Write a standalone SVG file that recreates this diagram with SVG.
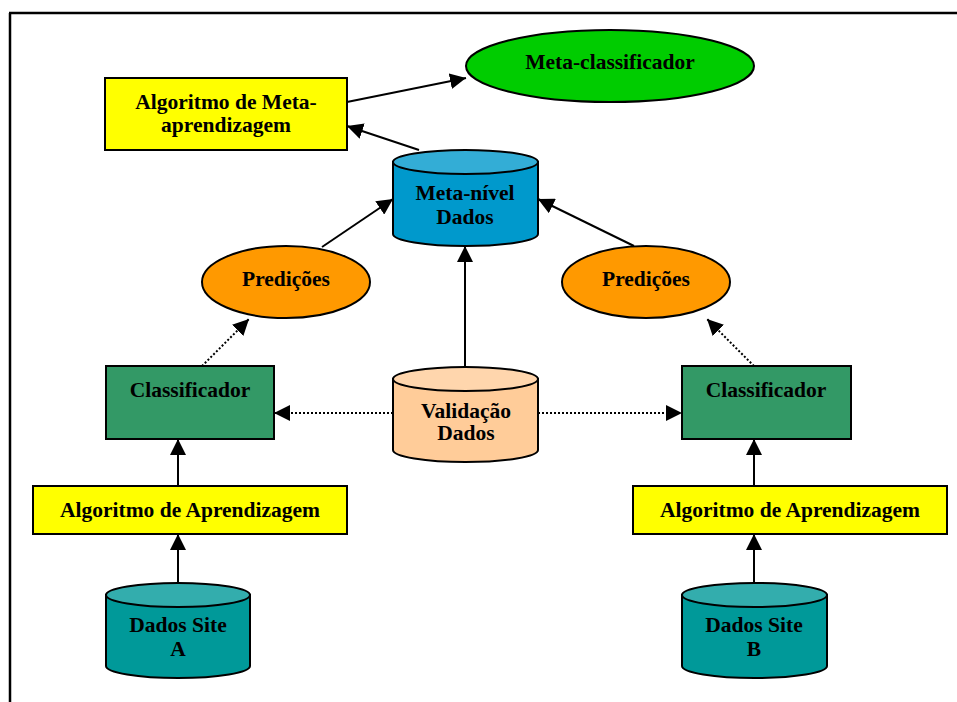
<svg xmlns="http://www.w3.org/2000/svg" width="957" height="702" viewBox="0 0 957 702">
<style>
  .t { font-family: "Liberation Serif", "Times New Roman", serif; font-weight: bold; font-size: 21.5px; fill: #000; text-anchor: middle; }
  .sh { stroke: #000; stroke-width: 2; }
  .c { stroke: #000; stroke-width: 2; fill: none; }
  .d { stroke: #000; stroke-width: 2; fill: none; stroke-dasharray: 2 2; }
</style>
<defs>
  <marker id="ah" markerUnits="userSpaceOnUse" markerWidth="16" markerHeight="16" refX="16" refY="8" orient="auto" viewBox="0 0 16 16">
    <path d="M0,0 L16,8 L0,16 Z" fill="#000"/>
  </marker>
</defs>
<rect x="0" y="0" width="957" height="702" fill="#fff"/>
<g id="frame">
  <path d="M9,13 H957 M10,13 V702" stroke="#000" stroke-width="2.5" fill="none"/>
</g>
<g id="connectors">
  <line class="c" x1="347" y1="102" x2="466" y2="78" marker-end="url(#ah)"/>
  <line class="c" x1="419" y1="150" x2="347" y2="126" marker-end="url(#ah)"/>
  <line class="c" x1="322" y1="247" x2="393" y2="199" marker-end="url(#ah)"/>
  <line class="c" x1="634" y1="246" x2="538" y2="199" marker-end="url(#ah)"/>
  <line class="c" x1="465" y1="367" x2="465" y2="246" marker-end="url(#ah)"/>
  <line class="d" x1="393" y1="413" x2="274" y2="413" marker-end="url(#ah)"/>
  <line class="d" x1="538" y1="413" x2="682" y2="413" marker-end="url(#ah)"/>
  <line class="d" x1="202" y1="366" x2="249" y2="319" marker-end="url(#ah)"/>
  <line class="d" x1="754" y1="366" x2="707" y2="319" marker-end="url(#ah)"/>
  <line class="c" x1="178" y1="486" x2="178" y2="439" marker-end="url(#ah)"/>
  <line class="c" x1="178" y1="583" x2="178" y2="534" marker-end="url(#ah)"/>
  <line class="c" x1="754" y1="486" x2="754" y2="439" marker-end="url(#ah)"/>
  <line class="c" x1="754" y1="583" x2="754" y2="534" marker-end="url(#ah)"/>
</g>
<g id="meta-algoritmo">
  <rect class="sh" x="105" y="78" width="242" height="72" fill="#FFFF00"/>
  <text class="t" x="226" y="109">Algoritmo de Meta-</text>
  <text class="t" x="226" y="132">aprendizagem</text>
</g>
<g id="meta-classificador">
  <ellipse class="sh" cx="610" cy="66" rx="144" ry="36" fill="#00CC00"/>
  <text class="t" x="610" y="69">Meta-classificador</text>
</g>
<g id="meta-nivel-dados">
  <path class="sh" d="M393,162 V234 A72.5,12 0 0 0 538,234 V162 Z" fill="#0099CC"/>
  <ellipse class="sh" cx="465.5" cy="162" rx="72.5" ry="12" fill="#33ADD6"/>
  <text class="t" x="465" y="200">Meta-nível</text>
  <text class="t" x="465" y="224">Dados</text>
</g>
<g id="predicoes-a">
  <ellipse class="sh" cx="286" cy="282" rx="84" ry="36" fill="#FF9900"/>
  <text class="t" x="286" y="286">Predições</text>
</g>
<g id="predicoes-b">
  <ellipse class="sh" cx="646" cy="282" rx="84" ry="36" fill="#FF9900"/>
  <text class="t" x="646" y="286">Predições</text>
</g>
<g id="classificador-a">
  <rect class="sh" x="106" y="366" width="168" height="73" fill="#339966"/>
  <text class="t" x="190" y="397">Classificador</text>
</g>
<g id="classificador-b">
  <rect class="sh" x="682" y="366" width="169" height="73" fill="#339966"/>
  <text class="t" x="766" y="397">Classificador</text>
</g>
<g id="validacao-dados">
  <path class="sh" d="M393,379 V450 A72.5,12 0 0 0 538,450 V379 Z" fill="#FFCC99"/>
  <ellipse class="sh" cx="465.5" cy="379" rx="72.5" ry="12" fill="#FFD6AD"/>
  <text class="t" x="466" y="418">Validação</text>
  <text class="t" x="466" y="440">Dados</text>
</g>
<g id="algoritmo-a">
  <rect class="sh" x="33" y="486" width="314" height="48" fill="#FFFF00"/>
  <text class="t" x="190" y="517">Algoritmo de Aprendizagem</text>
</g>
<g id="algoritmo-b">
  <rect class="sh" x="633" y="486" width="314" height="48" fill="#FFFF00"/>
  <text class="t" x="790" y="517">Algoritmo de Aprendizagem</text>
</g>
<g id="dados-site-a">
  <path class="sh" d="M106,595 V666 A72,12 0 0 0 250,666 V595 Z" fill="#009999"/>
  <ellipse class="sh" cx="178" cy="595" rx="72" ry="12" fill="#33ADAD"/>
  <text class="t" x="178" y="632">Dados Site</text>
  <text class="t" x="178" y="656">A</text>
</g>
<g id="dados-site-b">
  <path class="sh" d="M682,595 V666 A72.5,12 0 0 0 827,666 V595 Z" fill="#009999"/>
  <ellipse class="sh" cx="754.5" cy="595" rx="72.5" ry="12" fill="#33ADAD"/>
  <text class="t" x="754" y="632">Dados Site</text>
  <text class="t" x="754" y="656">B</text>
</g>
</svg>
